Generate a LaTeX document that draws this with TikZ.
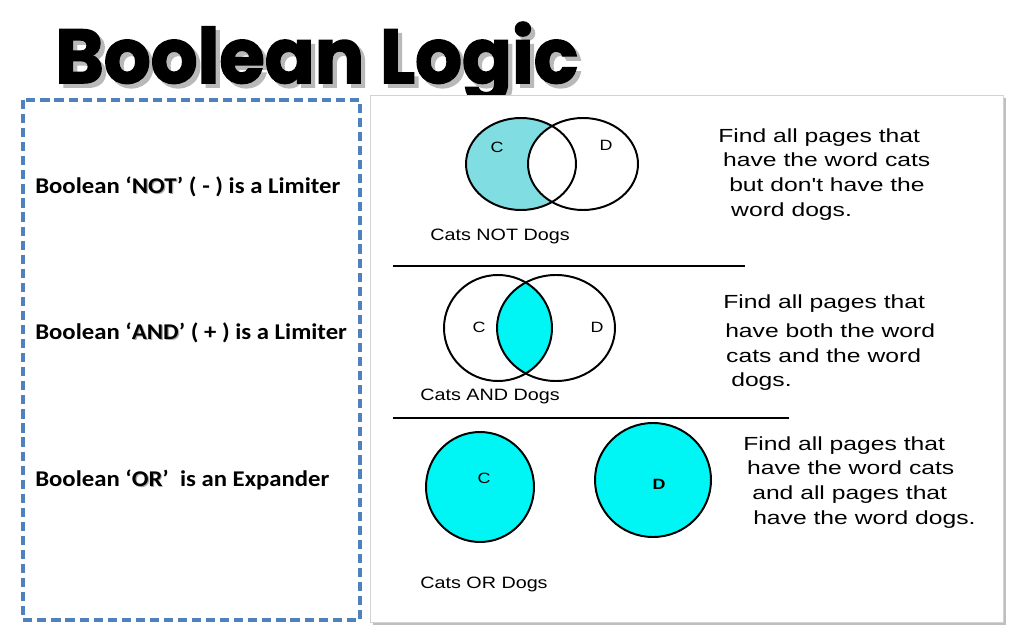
\documentclass[tikz,border=0pt]{standalone}
\usepackage{fontspec}
\usepackage{graphicx}
\setmainfont{Liberation Sans}[Ligatures=TeXOff]
\newfontfamily\titlefont{Poppins}[BoldFeatures={FakeBold=2}]
\newfontfamily\leftfont{Carlito}

\definecolor{boxblue}{RGB}{79,129,189}
\definecolor{notcyan}{RGB}{128,222,226}
\definecolor{andcyan}{RGB}{0,245,245}
\newcommand{\sq}[1]{\scalebox{1.3}[1]{#1}}
\newcommand{\lab}[1]{\scalebox{1.2}[1]{#1}}
\newcommand{\widen}[1]{\scalebox{1.1}[1]{#1}}
\newcommand{\glow}[1]{\rlap{\hspace{0.8pt}\raisebox{-0.8pt}{\color{gray!70}#1}}#1}
\newcommand{\titletext}[1]{\resizebox{13.07cm}{1.525cm}{\titlefont\bfseries\color{#1}Boolean Logic}}

\begin{document}
\begin{tikzpicture}[x=0.025cm,y=-0.025cm]
    \tikzstyle{rule}=[line width=1.5pt]
    \tikzstyle{venn}=[line width=1.4pt]
    \tikzstyle{desc}=[anchor=north west,inner sep=0pt,align=left,font=\fontsize{13.5}{17.7}\selectfont]
    \tikzstyle{lbl}=[inner sep=0pt,font=\fontsize{11.7}{14}\selectfont]
    \tikzstyle{letter}=[inner sep=0pt,font=\fontsize{10.6}{12}\selectfont]
    \tikzstyle{limiter}=[anchor=west,inner sep=0pt,font=\leftfont\bfseries\fontsize{16}{19}\selectfont]
    \useasboundingbox (0,0) rectangle (1012,642);

    % title with its shadow
    \node[anchor=base west,inner sep=0pt] (title) at (55,83)
      {\rlap{\hspace{3pt}\raisebox{-3pt}{\titletext{gray!55}}}\titletext{black}};

    % left dashed panel
    \draw[boxblue,line width=2.2pt,dash pattern=on 6.5pt off 3.5pt] (23,100) rectangle (360,620);
    \node[limiter] (notrule) at (35,187) {\widen{Boolean ‘\glow{NOT}’ ( - ) is a Limiter}};
    \node[limiter] (andrule) at (35,333) {\widen{Boolean ‘\glow{AND}’ ( + ) is a Limiter}};
    \node[limiter] (orrule) at (35,480) {\widen{Boolean ‘\glow{OR}’\ \ is an Expander}};

    % right picture frame
    \fill[gray!50] (373,98) rectangle (1006,625);
    \filldraw[fill=white,draw=gray!35] (370,95) rectangle (1003,622);

    % NOT
    \fill[notcyan] (521,164) ellipse [x radius=55,y radius=46];
    \begin{scope}
      \clip (583,164) ellipse [x radius=55,y radius=46];
      \fill[white] (521,164) ellipse [x radius=55,y radius=46];
    \end{scope}
    \draw[venn] (521,164) ellipse [x radius=55,y radius=46];
    \draw[venn] (583,164) ellipse [x radius=55,y radius=46];
    \node[letter] (c1) at (497,147) {\lab{C}};
    \node[letter] (d1) at (606,145) {\lab{D}};
    \node[lbl] (notlbl) at (500,236) {\lab{Cats NOT Dogs}};
    \node[desc] (notdesc) at (718,128) {\sq{Find all pages that}\\
      \hspace*{3.5pt}\sq{have the word cats}\\
      \hspace*{7.8pt}\sq{but don't have the}\\
      \hspace*{9.2pt}\sq{word dogs.}};
    \coordinate (r1a) at (393,266);
    \coordinate (r1b) at (745,266);
    \draw[rule] (r1a) -- (r1b);

    % AND
    \begin{scope}
      \clip (498,328) ellipse [x radius=54,y radius=53];
      \fill[andcyan] (556,328) ellipse [x radius=59,y radius=53];
    \end{scope}
    \draw[venn] (498,328) ellipse [x radius=54,y radius=53];
    \draw[venn] (556,328) ellipse [x radius=59,y radius=53];
    \node[letter] (c2) at (479,327) {\lab{C}};
    \node[letter] (d2) at (597,327) {\lab{D}};
    \node[lbl] (andlbl) at (490,396) {\lab{Cats AND Dogs}};
    \node[desc] (anddesc) at (723,294) {\sq{Find all pages that}\\[3pt]
      \hspace*{1.4pt}\sq{have both the word}\\
      \hspace*{2.1pt}\sq{cats and the word}\\
      \hspace*{5.7pt}\sq{dogs.}};
    \coordinate (r2a) at (393,418);
    \coordinate (r2b) at (789,418);
    \draw[rule] (r2a) -- (r2b);

    % OR
    \filldraw[venn,fill=andcyan] (480,487) ellipse [x radius=54,y radius=55];
    \filldraw[venn,fill=andcyan] (653,480) ellipse [x radius=58,y radius=57];
    \node[letter] (c3) at (484,478) {\lab{C}};
    \node[letter] (d3) at (659,484) {\lab{\bfseries D}};
    \node[lbl] (orlbl) at (484,584) {\lab{Cats OR Dogs}};
    \node[desc] (ordesc) at (743,436) {\sq{Find all pages that}\\
      \hspace*{2.8pt}\sq{have the word cats}\\
      \hspace*{6.4pt}\sq{and all pages that}\\
      \hspace*{7.1pt}\sq{have the word dogs.}};
\end{tikzpicture}
\end{document}
